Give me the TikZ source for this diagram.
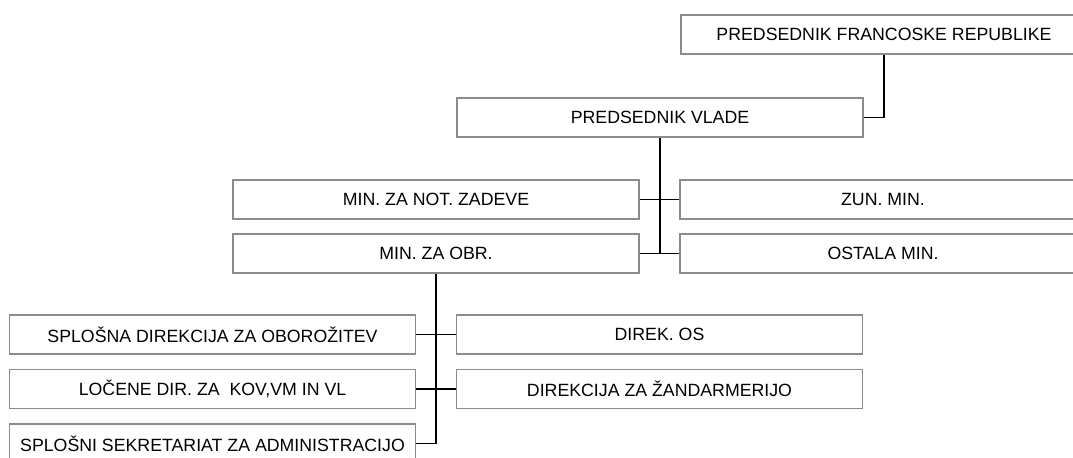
\documentclass[tikz,border=0pt]{standalone}
\usepackage{fontspec}
\setmainfont{Liberation Sans}
\definecolor{boxgray}{RGB}{140,140,140}

\begin{document}
\begin{tikzpicture}[x=0.75pt, y=-0.75pt,
    box/.style={draw=boxgray, line width=0.9pt, fill=white, minimum width=304.5pt, minimum height=29.25pt, inner xsep=1pt, font=\fontsize{13.3}{15}\selectfont},
    link/.style={line width=1.1pt, black}]
        \clip (0,0) rectangle (1073,457);
        \fill[white] (0,0) rectangle (1073,457);
        % top of the chart
        \node[box] (pfr) at (884, 34.5) {PREDSEDNIK FRANCOSKE REPUBLIKE};
        \node[box] (pv) at (660, 117.5) {PREDSEDNIK VLADE};
        % ministries
        \node[box] (mnz) at (436, 199.5) {MIN. ZA NOT. ZADEVE};
        \node[box] (zun) at (883, 199.5) {ZUN. MIN.};
        \node[box] (mzo) at (436, 253.5) {MIN. ZA OBR.};
        \node[box] (ost) at (883, 253.5) {OSTALA MIN.};
        % directorates
        \node[box] (sdo) at (212.5, 334.5) {SPLOŠNA DIREKCIJA ZA OBOROŽITEV};
        \node[box] (dos) at (659.5, 334.5) {DIREK. OS};
        \node[box] (ldz) at (212.5, 389) {LOČENE DIR. ZA\ \ KOV,VM IN VL};
        \node[box] (dzz) at (659.5, 389) {DIREKCIJA ZA ŽANDARMERIJO};
        \node[box] (ssa) at (212.5, 443.5) {SPLOŠNI SEKRETARIAT ZA ADMINISTRACIJO};
        \draw[link] (pfr.south) |- (pv.east);
        \draw[link] (pv.south) -- (pv.south |- mzo.east);
        \draw[link] (mnz.east) -- (zun.west); \draw[link] (mzo.east) -- (ost.west);
        \draw[link] (mzo.south) |- (ssa.east);
        \draw[link] (sdo.east) -- (dos.west); \draw[link] (ldz.east) -- (dzz.west);
    \end{tikzpicture}
\end{document}
